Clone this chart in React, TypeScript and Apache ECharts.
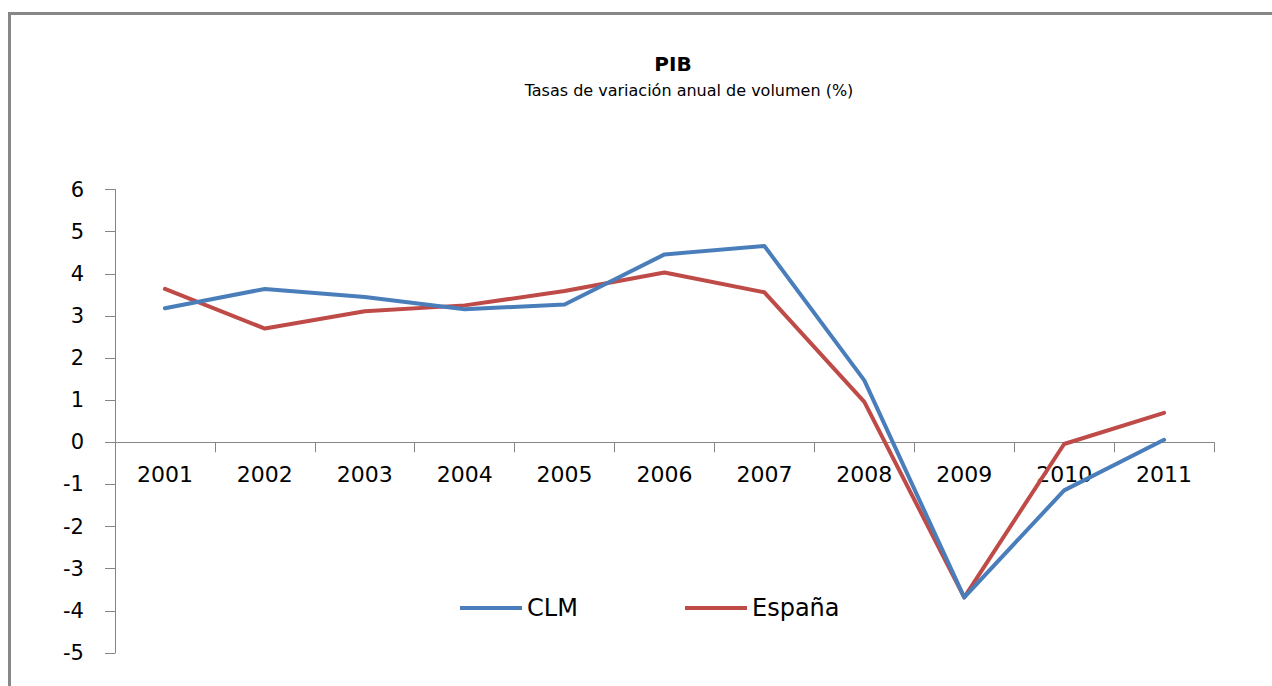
import React, { useEffect, useRef } from "react";
import * as echarts from "echarts";

const years = ["2001", "2002", "2003", "2004", "2005", "2006", "2007", "2008", "2009", "2010", "2011"];
const clm = [3.18, 3.64, 3.45, 3.16, 3.27, 4.46, 4.66, 1.47, -3.68, -1.14, 0.06];
const espana = [3.64, 2.7, 3.11, 3.25, 3.59, 4.03, 3.56, 0.96, -3.68, -0.04, 0.7];
const yMin = -5;
const yMax = 6;
const yStep = 1;

const titleText = "PIB";
const subtitleText = "Tasas de variación anual de volumen (%)";
const seriesNames = ["CLM", "España"];
const seriesColors = ["#4A7EBB", "#BE4B48"];

const FONT = "'DejaVu Sans', 'Noto Sans', sans-serif";

const GRID_TOP = 189.5;
const GRID_BOTTOM = 33;
const CHART_H = 686;

export default function App() {
  const ref = useRef<HTMLDivElement>(null);
  useEffect(() => {
    if (!ref.current) return;
    const chart = echarts.init(ref.current, undefined, { renderer: "svg" });
    const plotH = CHART_H - GRID_TOP - GRID_BOTTOM;
    const zeroOffset = -(plotH * (0 - yMin)) / (yMax - yMin);
    const legendBase = {
      orient: "horizontal",
      top: 596,
      icon: "rect",
      itemWidth: 62,
      itemHeight: 4,
      itemGap: 0,
      padding: 0,
      textStyle: { fontFamily: FONT, fontSize: 24, color: "#000", padding: [0, 0, 0, 0] },
    };
    chart.setOption({
      animation: false,
      backgroundColor: "#fff",
      graphic: [
        {
          type: "rect",
          shape: { x: 9.5, y: 13.5, width: 1400, height: 800 },
          style: { fill: "none", stroke: "#878787", lineWidth: 3 },
          silent: true,
        },
        {
          type: "text",
          x: 673,
          y: 64,
          style: {
            text: titleText,
            align: "center",
            verticalAlign: "middle",
            font: `bold 20px ${FONT}`,
            fill: "#000",
          },
        },
        {
          type: "text",
          x: 689,
          y: 90,
          style: {
            text: subtitleText,
            align: "center",
            verticalAlign: "middle",
            font: `16px ${FONT}`,
            fill: "#000",
          },
        },
      ],
      legend: [
        { ...legendBase, left: 460, data: [seriesNames[0]] },
        { ...legendBase, left: 685, data: [seriesNames[1]] },
      ],
      grid: { left: 115, right: 58, top: GRID_TOP, bottom: GRID_BOTTOM, containLabel: false },
      xAxis: {
        type: "category",
        data: years,
        boundaryGap: true,
        position: "bottom",
        offset: zeroOffset,
        axisLine: { onZero: false, lineStyle: { color: "#868686", width: 1 } },
        axisTick: { show: true, length: 10, lineStyle: { color: "#868686" } },
        axisLabel: { fontFamily: FONT, fontSize: 22, color: "#000", margin: 21 },
        splitLine: { show: false },
      },
      yAxis: {
        type: "value",
        min: yMin,
        max: yMax,
        interval: yStep,
        axisLine: { show: true, lineStyle: { color: "#868686", width: 1 } },
        axisTick: { show: true, length: 10, lineStyle: { color: "#868686" } },
        axisLabel: { fontFamily: FONT, fontSize: 21, color: "#000", margin: 31 },
        splitLine: { show: false },
      },
      series: [
        {
          name: seriesNames[0],
          type: "line",
          data: clm,
          symbol: "none",
          lineStyle: { color: seriesColors[0], width: 4, cap: "round", join: "round" },
          itemStyle: { color: seriesColors[0] },
          z: 3,
        },
        {
          name: seriesNames[1],
          type: "line",
          data: espana,
          symbol: "none",
          lineStyle: { color: seriesColors[1], width: 4, cap: "round", join: "round" },
          itemStyle: { color: seriesColors[1] },
          z: 2,
        },
      ],
    });
    return () => chart.dispose();
  }, []);
  return (
    <div
      ref={ref}
      style={{ position: "fixed", left: 0, top: 0, width: 1272, height: 686, background: "#fff" }}
    />
  );
}
